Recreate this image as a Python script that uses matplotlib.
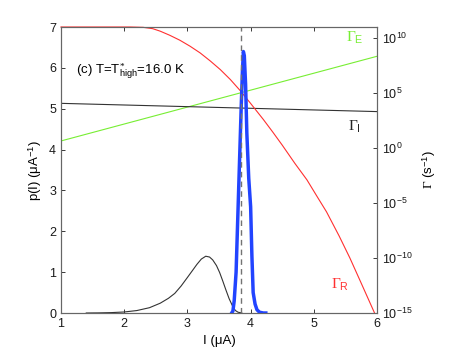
import numpy as np
import matplotlib
matplotlib.use("Agg")
import matplotlib.pyplot as plt
from matplotlib.ticker import FixedLocator, LogFormatterMathtext, NullLocator

plt.rcParams["font.family"] = ["Liberation Sans", "DejaVu Sans"]
plt.rcParams["mathtext.fontset"] = "custom"
plt.rcParams["mathtext.rm"] = "Liberation Serif"
plt.rcParams["mathtext.sf"] = "Liberation Sans"
plt.rcParams["mathtext.it"] = "Liberation Serif:italic"

# p(I) of the low-current branch (thin black) and of the switching peak (thick blue)
I_low = [1.4, 1.6, 1.8, 2.0, 2.2, 2.4, 2.57, 2.7, 2.8, 2.9, 3.0, 3.08, 3.15, 3.22,
         3.29, 3.35, 3.4, 3.46, 3.51, 3.56, 3.61, 3.66, 3.72, 3.76, 3.8, 3.86]
p_low = [0.0, 0.003, 0.01, 0.025, 0.06, 0.13, 0.24, 0.36, 0.48, 0.66, 0.87, 1.04, 1.19, 1.32,
         1.39, 1.37, 1.30, 1.16, 0.99, 0.78, 0.56, 0.35, 0.15, 0.06, 0.02, 0.0]

I_peak = [3.70, 3.72, 3.74, 3.77, 3.79, 3.81, 3.83, 3.85, 3.87, 3.885, 3.90, 3.92,
          3.94, 3.97, 4.00, 4.02, 4.04, 4.07, 4.10, 4.14, 4.20, 4.24]
p_peak = [0.0, 0.05, 0.30, 1.0, 2.0, 3.0, 4.0, 5.0, 5.9, 6.4, 6.3, 5.6,
          4.4, 3.3, 2.6, 1.4, 0.5, 0.22, 0.08, 0.02, 0.0, 0.0]

I_star = 3.85

# rates, log10(Gamma / s^-1)
I_rate = [1.0, 2.0, 3.0, 4.0, 5.0, 6.0]
logG_E = [0.64, 2.18, 3.72, 5.26, 6.80, 8.34]
logG_I = [4.06, 3.91, 3.76, 3.61, 3.46, 3.31]

I_R = [1.0, 1.5, 2.0, 2.1, 2.3, 2.45, 2.57, 2.72, 2.88, 3.04, 3.2, 3.36, 3.52, 3.68, 3.83,
       4.0, 4.2, 4.35, 4.5, 4.7, 4.89, 5.05, 5.2, 5.4, 5.57, 5.75, 5.96]
logG_R = [11.0, 11.0, 11.0, 11.0, 10.97, 10.85, 10.62, 10.25, 9.80, 9.26, 8.65, 7.92, 7.13, 6.22, 5.25,
          4.05, 2.6, 1.45, 0.26, -1.4, -2.89, -4.4, -5.8, -8.0, -10.0, -12.3, -15.0]

fig = plt.figure(figsize=(4.69, 3.53), dpi=100)
ax = fig.add_axes([0.130, 0.1133, 0.674, 0.8102])
ax2 = ax.twinx()
ax.set_zorder(ax2.get_zorder() + 1)
ax.patch.set_visible(False)

ax2.semilogy(I_rate, 10.0 ** np.array(logG_E), color="#77ee33", lw=0.8)
ax2.semilogy(I_rate, 10.0 ** np.array(logG_I), color="#333333", lw=0.8)
ax2.semilogy(I_R, 10.0 ** np.array(logG_R), color="#ff3030", lw=0.8, clip_on=False)
ax2.set_ylim(1e-15, 1e11)
ax2.yaxis.set_major_locator(FixedLocator([1e-15, 1e-10, 1e-5, 1e0, 1e5, 1e10]))
ax2.yaxis.set_major_formatter(LogFormatterMathtext())
ax2.yaxis.set_minor_locator(NullLocator())
ax2.set_ylabel(r"$\Gamma$ (s$^{\mathsf{-1}}$)", fontsize=9.5, labelpad=6)

ax.plot(I_low, p_low, color="#333333", lw=0.8)
ax.plot(I_peak, p_peak, color="#2244ff", lw=2.5)
ax.axvline(I_star, color="0.45", lw=1.0, ls=(0, (4, 3)))
ax.set_xlim(1, 6)
ax.set_ylim(0, 7)
ax.set_xticks([1, 2, 3, 4, 5, 6])
ax.set_yticks(range(8))
ax.set_xlabel("I (μA)", fontsize=9.5)
ax.set_ylabel(r"p(I) (μA$^{\mathsf{-1}}$)", fontsize=9.5)

ax.text(1.24, 5.83, r"(c) T=T$^{*}_{\mathsf{high}}$=16.0 K", fontsize=9.5)
ax2.text(5.51, 10 ** 9.68, r"$\Gamma_{\mathsf{E}}$", color="#77ee33", fontsize=11)
ax2.text(5.54, 10 ** 1.6, r"$\Gamma_{\mathsf{I}}$", color="#222222", fontsize=11)
ax2.text(5.27, 10 ** -12.8, r"$\Gamma_{\mathsf{R}}$", color="#ff3030", fontsize=11)

for a in (ax, ax2):
    a.tick_params(direction="in", labelsize=9, length=3, width=0.6, colors="0.1")
    for s in a.spines.values():
        s.set_color("0.4")
        s.set_linewidth(0.8)
ax.tick_params(top=True, right=False)
ax2.tick_params(left=False, right=True)

fig.savefig("out.png", dpi=100)
